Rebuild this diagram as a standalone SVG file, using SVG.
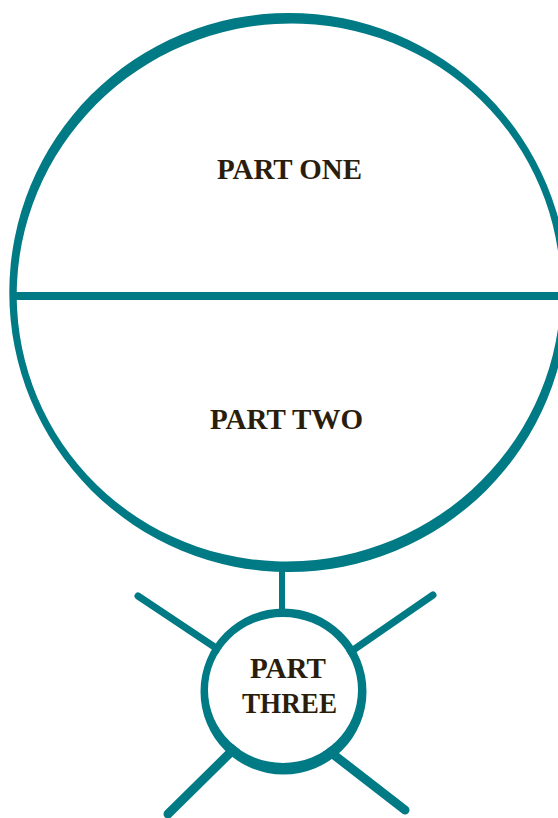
<svg xmlns="http://www.w3.org/2000/svg" width="558" height="818" viewBox="0 0 558 818">
  <style>
    .ring { fill: #007a84; fill-rule: evenodd; }
    .line { stroke: #007a84; fill: none; }
    .spoke { stroke: #007a84; stroke-linecap: round; fill: none; }
    .label { font-family: "Liberation Serif", "Times New Roman", serif; font-weight: bold; font-size: 30px; fill: #2a1d0c; text-anchor: middle; }
  </style>
  <rect width="558" height="818" fill="#ffffff"/>

  <g id="connectors">
    <line class="line" x1="282" y1="568" x2="282" y2="612" stroke-width="6"/>
    <line class="spoke" x1="138" y1="596" x2="222" y2="652" stroke-width="7"/>
    <line class="spoke" x1="433" y1="595" x2="346" y2="655" stroke-width="7"/>
    <line class="spoke" x1="168" y1="814" x2="238" y2="745" stroke-width="9"/>
    <line class="spoke" x1="405" y1="810" x2="325" y2="748" stroke-width="9"/>
  </g>

  <g id="big-circle">
    <path class="ring" d="M 9.3 292.5 A 279.5 279.5 0 1 0 568.3 292.5 A 279.5 279.5 0 1 0 9.3 292.5 Z
      M 32.7 385.7 A 272.5 268.5 -20 1 1 544.9 199.3 A 272.5 268.5 -20 1 1 32.7 385.7 Z"/>
    <line class="line" x1="14" y1="296" x2="560" y2="296" stroke-width="8"/>
  </g>

  <g id="part-one">
    <text class="label" x="289.5" y="179" textLength="145" lengthAdjust="spacingAndGlyphs">PART ONE</text>
  </g>

  <g id="part-two">
    <text class="label" x="286.5" y="429" textLength="153" lengthAdjust="spacingAndGlyphs">PART TWO</text>
  </g>

  <g id="part-three">
    <ellipse cx="283" cy="690" rx="75" ry="73" fill="#ffffff"/>
    <path class="ring" d="M 200.5 691.5 A 83 83 0 1 0 366.5 691.5 A 83 83 0 1 0 200.5 691.5 Z
      M 208 690 A 75 73 0 1 1 358 690 A 75 73 0 1 1 208 690 Z"/>
    <text class="label" x="288" y="678" textLength="76" lengthAdjust="spacingAndGlyphs">PART</text>
    <text class="label" x="289.5" y="713" textLength="95" lengthAdjust="spacingAndGlyphs">THREE</text>
  </g>
</svg>
